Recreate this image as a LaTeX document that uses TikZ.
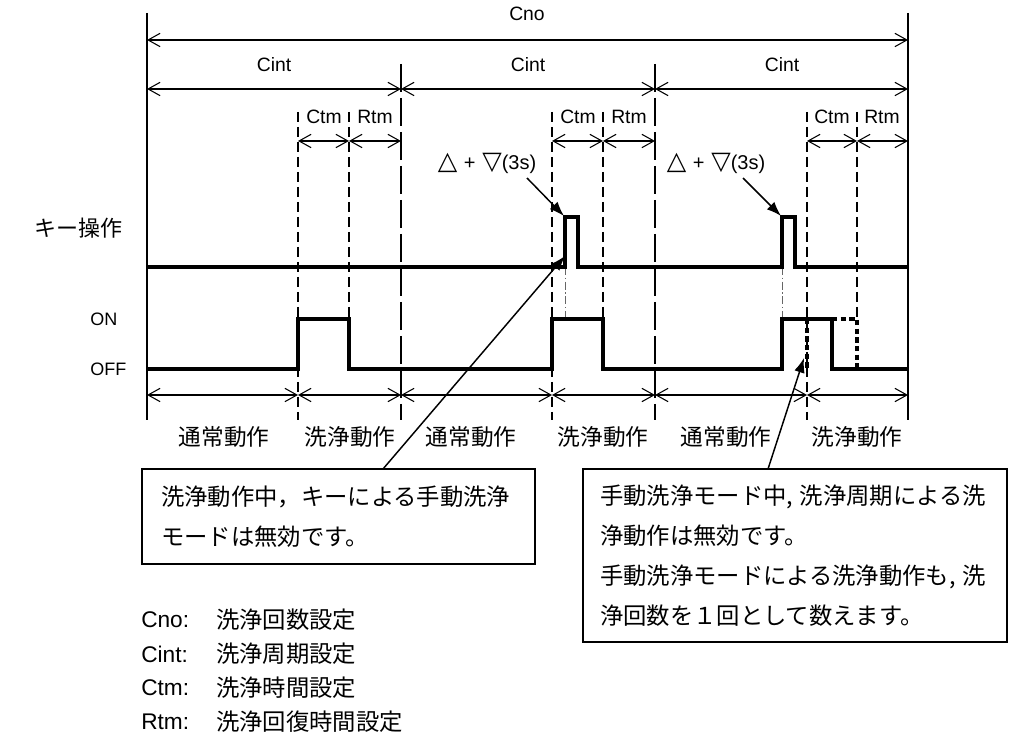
\documentclass[tikz,border=0pt]{standalone}
\usepackage{fontspec}
\setmainfont{Liberation Sans}
\newfontfamily\jp{Noto Sans CJK JP}
\newfontfamily\sym{DejaVu Sans}
\usetikzlibrary{arrows.meta}
\begin{document}
\begin{tikzpicture}[x=0.75pt,y=-0.75pt]
\useasboundingbox (0,0) rectangle (1014,737);
\tikzset{
  guide/.style={line width=0.8pt},
  dim/.style={line width=0.8pt,{Straight Barb[length=9pt,width=10pt]}-{Straight Barb[length=9pt,width=10pt]}},
  sig/.style={line width=2.3pt,line join=miter},
  sdash/.style={line width=0.8pt,dash pattern=on 7.5pt off 3.75pt},
  ldash/.style={line width=0.8pt,dash pattern=on 21pt off 4.5pt},
  ddot/.style={line width=0.6pt,black!60,dash pattern=on 6pt off 2pt on 1pt off 2pt},
  bdash/.style={line width=2.3pt,dash pattern=on 4pt off 2.5pt},
  lab/.style={inner sep=0,font=\fontsize{14.5}{16}\selectfont},
  jlab/.style={inner sep=0,font=\jp\fontsize{17}{20}\selectfont},
  legl/.style={inner sep=0,anchor=west,font=\fontsize{17}{20}\selectfont},
  legj/.style={inner sep=0,anchor=west,font=\jp\fontsize{17.5}{20}\selectfont},
  notebox/.style={draw,line width=1pt,align=left,font=\jp\fontsize{17.5}{30}\selectfont},
  pointer/.style={line width=1.1pt,-{Latex[length=11pt,width=8pt]}},
  tri/.style={inner sep=0,font=\fontsize{15}{17}\selectfont},
}
\newcommand{\trisym}[1]{{\sym\fontsize{19}{20}\selectfont #1}}
\newcommand{\cma}{,\nobreak\hspace{5pt}\nobreak}
% coordinates for dimension rows
\foreach \n/\x in {A/147,B/298,C/349,D/401,E/552,F/603,G/655,H/807,I/857,J/908}{
  \coordinate (\n0) at (\x,40);
  \coordinate (\n1) at (\x,89);
  \coordinate (\n2) at (\x,141);
  \coordinate (\n3) at (\x,395);
}
% guide lines
\draw[guide] (147,13) -- (147,420);
\draw[guide] (908,13) -- (908,420);
\draw[ldash] (401,64) -- (401,420);
\draw[ldash] (655,64) -- (655,420);
\foreach \x in {298,552,807}{\draw[sdash] (\x,112) -- (\x,420);}
\foreach \x in {349,603,857}{\draw[sdash] (\x,112) -- (\x,319);}
\draw[ddot] (565,267) -- (565,319);
\draw[ddot] (782,267) -- (782,319);
% dimension arrows
\draw[dim] (A0) -- (J0);
\draw[dim] (A1) -- (D1);
\draw[dim] (D1) -- (G1);
\draw[dim] (G1) -- (J1);
\draw[dim] (B2) -- (C2);
\draw[dim] (C2) -- (D2);
\draw[dim] (E2) -- (F2);
\draw[dim] (F2) -- (G2);
\draw[dim] (H2) -- (I2);
\draw[dim] (I2) -- (J2);
\draw[dim] (A3) -- (B3);
\draw[dim] (B3) -- (D3);
\draw[dim] (D3) -- (E3);
\draw[dim] (E3) -- (G3);
\draw[dim] (G3) -- (H3);
\draw[dim] (H3) -- (J3);
% labels
\node[lab] (cno) at (527,14) {Cno};
\node[lab] (cint1) at (274,65) {Cint};
\node[lab] (cint2) at (528,65) {Cint};
\node[lab] (cint3) at (782,65) {Cint};
\node[lab] (ctm1) at (324,117) {Ctm};
\node[lab] (rtm1) at (375,117) {Rtm};
\node[lab] (ctm2) at (578,117) {Ctm};
\node[lab] (rtm2) at (629,117) {Rtm};
\node[lab] (ctm3) at (832,117) {Ctm};
\node[lab] (rtm3) at (882,117) {Rtm};
\node[tri] (tk1) at (487,163) {\trisym{△}\hspace{5pt}+\hspace{5pt}\trisym{▽}(3s)};
\node[tri] (tk2) at (716,163) {\trisym{△}\hspace{5pt}+\hspace{5pt}\trisym{▽}(3s)};
\node[inner sep=0,font=\jp\fontsize{16.5}{20}\selectfont] (key) at (78,228) {キー操作};
\node[inner sep=0,anchor=west,font=\fontsize{13.5}{15}\selectfont] (on) at (90,319) {ON};
\node[inner sep=0,anchor=west,font=\fontsize{13.5}{15}\selectfont] (off) at (90,369) {OFF};
% waveforms
\draw[sig] (147,267) -- (565,267) -- (565,217) -- (578,217) -- (578,267) -- (782,267) -- (782,217) -- (795,217) -- (795,267) -- (908,267);
\draw[sig] (147,369) -- (298,369) -- (298,319) -- (349,319) -- (349,369) -- (552,369) -- (552,319) -- (603,319) -- (603,369) -- (782,369) -- (782,319) -- (832,319) -- (832,369) -- (908,369);
\draw[bdash] (832,319) -- (857,319) -- (857,369);
\draw[bdash] (807,319) -- (807,369);
% phase labels
\node[jlab] (ph1) at (224,437) {通常動作};
\node[jlab] (ph2) at (350,437) {洗浄動作};
\node[jlab] (ph3) at (471,437) {通常動作};
\node[jlab] (ph4) at (603,437) {洗浄動作};
\node[jlab] (ph5) at (726,437) {通常動作};
\node[jlab] (ph6) at (857,437) {洗浄動作};
% key pointers
\coordinate (t1a) at (527,178);
\coordinate (t1b) at (564,216);
\coordinate (t2a) at (743,178);
\coordinate (t2b) at (781,216);
\draw[pointer] (t1a) -- (t1b);
\draw[pointer] (t2a) -- (t2b);
% note boxes
\node[notebox,minimum width=294.75pt,minimum height=71.25pt,text width=266.25pt,inner xsep=14.25pt] (box1) at (338.5,516.5)
  {洗浄動作中，キーによる手動洗浄\\モードは無効です。};
\node[notebox,minimum width=318pt,minimum height=129.75pt,text width=292.5pt,inner xsep=12.75pt] (box2) at (795,555.5)
  {手動洗浄モード中\cma 洗浄周期による洗\\浄動作は無効です。\\手動洗浄モードによる洗浄動作も\cma 洗\\浄回数を１回として数えます。};
\coordinate (b1a) at (383,469);
\coordinate (b1b) at (565,256);
\coordinate (b2a) at (768,469);
\coordinate (b2b) at (804,358);
\draw[pointer] (b1a) -- (b1b);
\draw[pointer] (b2a) -- (b2b);
% legend
\node[legl] (l1) at (141,620) {Cno:};
\node[legl] (l2) at (141,654) {Cint:};
\node[legl] (l3) at (141,688) {Ctm:};
\node[legl] (l4) at (141,722) {Rtm:};
\node[legj] (j1) at (216,620) {洗浄回数設定};
\node[legj] (j2) at (216,654) {洗浄周期設定};
\node[legj] (j3) at (216,688) {洗浄時間設定};
\node[legj] (j4) at (216,722) {洗浄回復時間設定};
\end{tikzpicture}
\end{document}
